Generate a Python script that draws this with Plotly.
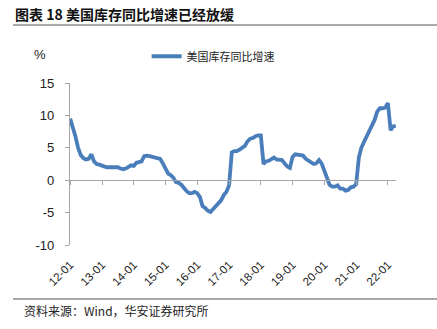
import pandas as pd
import plotly.graph_objects as go

# 美国库存同比增速（%），月度，2012-01 至 2022-04
months = pd.date_range("2012-01-01", "2022-04-01", freq="MS")
inventory_yoy = [
    9.5, 8.3, 6.8, 5.0, 3.9, 3.4, 3.2, 3.3, 4.0, 2.9, 2.5, 2.4,          # 2012
    2.2, 2.1, 2.0, 2.0, 2.0, 2.1, 2.0, 1.8, 1.7, 1.8, 2.0, 2.3,          # 2013
    2.2, 2.7, 2.8, 2.9, 3.7, 3.8, 3.7, 3.6, 3.5, 3.5, 3.3, 2.6,          # 2014
    1.8, 1.0, 0.8, 0.4, -0.3, -0.4, -0.7, -1.3, -1.7, -2.0, -2.0, -1.8,  # 2015
    -2.0, -2.6, -4.0, -4.3, -4.7, -4.9, -4.4, -4.0, -3.5, -3.1, -2.3, -1.8,  # 2016
    -0.8, 4.3, 4.5, 4.5, 4.7, 5.0, 5.3, 6.0, 6.4, 6.5, 6.8, 6.9,        # 2017
    6.9, 2.5, 2.9, 3.0, 3.3, 3.5, 3.2, 3.2, 3.1, 2.6, 2.1, 1.9,          # 2018
    3.6, 4.0, 3.9, 3.9, 3.8, 3.3, 3.0, 2.8, 2.5, 2.6, 3.1, 2.6,          # 2019
    1.6, 0.4, -0.7, -1.0, -1.0, -0.8, -1.3, -1.3, -1.6, -1.5, -1.1, -1.0,  # 2020
    -0.6, 3.5, 5.0, 5.9, 6.8, 7.4, 8.4, 9.3, 10.6, 11.1, 11.1, 11.2,    # 2021
    11.9, 7.7, 8.3, 8.4,                                                 # 2022
]
tick_dates = pd.date_range("2012-01-01", "2022-01-01", freq="YS")
tick_labels = [d.strftime("%y-%m") for d in tick_dates]
y_ticks = [-10, -5, 0, 5, 10, 15]
y_tick_labels = [str(v) for v in y_ticks]

series_name = "美国库存同比增速"
title_text = "图表 18 美国库存同比增速已经放缓"
source_text = "资料来源：Wind，华安证券研究所"

LINE_BLUE = "#4a7ebb"
AXIS_GRAY = "#a6a6a6"
CJK = "Noto Sans CJK SC"
LATIN = "Liberation Sans"

x_range = [months[0] - pd.Timedelta(days=2), months[-1] + pd.Timedelta(days=3)]
y_range = [-10, 15]

fig = go.Figure()
fig.add_trace(go.Scatter(
    x=months, y=inventory_yoy, mode="lines", name=series_name,
    line=dict(color=LINE_BLUE, width=3.8),
))
# helper trace so the zero-line axis carries the same date scale
fig.add_trace(go.Scatter(
    x=[months[0], months[-1]], y=[0, 0], xaxis="x2", mode="lines",
    line=dict(width=0), showlegend=False, hoverinfo="skip",
))

fig.update_layout(
    width=437, height=329,
    margin=dict(l=70, r=41, t=83, b=84),
    paper_bgcolor="white", plot_bgcolor="white",
    showlegend=True,
    legend=dict(
        x=0.235, y=1.165, xanchor="left", yanchor="middle",
        font=dict(family=CJK, size=11, color="#222"),
        bgcolor="rgba(0,0,0,0)", itemwidth=30,
    ),
    xaxis=dict(
        type="date", range=x_range,
        tickvals=tick_dates, ticktext=tick_labels, tickangle=-45,
        showline=False, showgrid=False, zeroline=False, ticks="",
        tickfont=dict(family=LATIN, size=11.5, color="#222"),
        ticklabelstandoff=10,
    ),
    xaxis2=dict(
        type="date", range=x_range, overlaying="x", anchor="free",
        position=(0 - y_range[0]) / (y_range[1] - y_range[0]),
        tickvals=tick_dates, showticklabels=False,
        ticks="outside", ticklen=4, tickcolor=AXIS_GRAY, tickwidth=1,
        showline=True, linecolor=AXIS_GRAY, linewidth=1.3,
        showgrid=False, zeroline=False,
    ),
    yaxis=dict(
        range=y_range, tickvals=y_ticks, ticktext=y_tick_labels,
        showline=True, linecolor=AXIS_GRAY, linewidth=1.3,
        ticks="outside", ticklen=4, tickcolor=AXIS_GRAY,
        showgrid=False, zeroline=False,
        tickfont=dict(family=LATIN, size=13, color="#222"),
        ticklabelstandoff=8,
    ),
)

# title, rules, unit label and source line
fig.add_annotation(
    text="<b>" + title_text + "</b>", xref="paper", yref="paper",
    x=(13 - 70) / 326, y=(245 - 14) / 162, xanchor="left", yanchor="middle",
    showarrow=False, font=dict(family=CJK, size=14, color="#111"),
)
fig.add_shape(type="line", xref="paper", yref="paper",
              x0=(13 - 70) / 326, x1=(437 - 70) / 326,
              y0=(245 - 25) / 162, y1=(245 - 25) / 162,
              line=dict(color="#555", width=1.2))
fig.add_shape(type="line", xref="paper", yref="paper",
              x0=(13 - 70) / 326, x1=(437 - 70) / 326,
              y0=(245 - 299) / 162, y1=(245 - 299) / 162,
              line=dict(color="#555", width=1.2))
fig.add_annotation(
    text="%", xref="paper", yref="paper",
    x=(40 - 70) / 326, y=(245 - 55) / 162, xanchor="center", yanchor="middle",
    showarrow=False, font=dict(family=LATIN, size=13, color="#222"),
)
fig.add_annotation(
    text=source_text, xref="paper", yref="paper",
    x=(22 - 70) / 326, y=(245 - 310) / 162, xanchor="left", yanchor="middle",
    showarrow=False, font=dict(family=CJK, size=12, color="#222"),
)

fig.write_html("out.html")
